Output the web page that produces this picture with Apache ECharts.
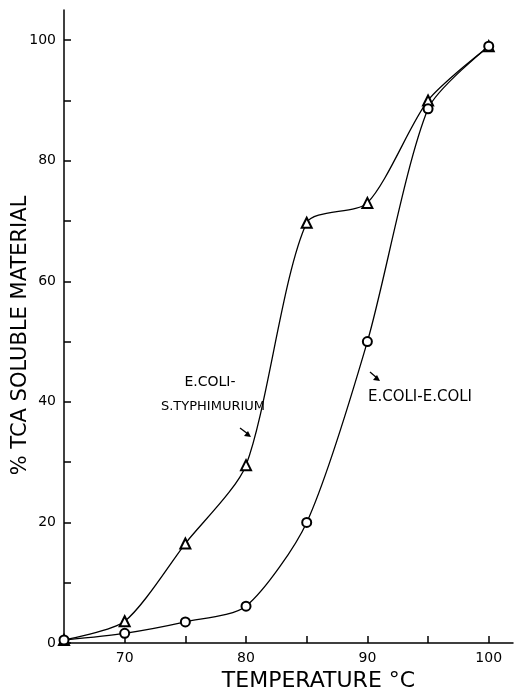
<!DOCTYPE html>
<html>
<head>
<meta charset="utf-8">
<script src="https://cdn.jsdelivr.net/npm/echarts@6/dist/echarts.min.js"></script>
<style>
html, body { margin: 0; padding: 0; background: #fff; }
#chart { width: 515px; height: 695px; }
</style>
</head>
<body>
<div id="chart"></div>
<script>
// temperatures (°C)
var temps = [65, 70, 75, 80, 85, 90, 95, 100]
// E.COLI-S.TYPHIMURIUM (triangles)
var typhiValues = [0.5, 3.6, 16.5, 29.5, 69.7, 73.0, 90.0, 99.0]
// E.COLI-E.COLI (circles)
var coliValues = [0.5, 1.6, 3.5, 6.1, 20.0, 50.0, 88.6, 99.0]

var xLabels = [70, 80, 90, 100]
var yLabels = [0, 20, 40, 60, 80, 100]

function pairs (xs, ys) {
    return xs.map(function (x, i) { return [x, ys[i]] })
}

var chart = echarts.init(document.getElementById('chart'))
var font = 'DejaVu Sans'

function note (text, x, y, size) {
    return {
        type: 'text',
        x: x,
        y: y,
        style: {
            text: text,
            font: size + 'px DejaVu Sans',
            fill: '#000',
            textAlign: 'center',
            textVerticalAlign: 'middle'
        }
    }
}

var option = {
    animation: false,
    grid: { left: 64, top: 10, right: 2, bottom: 52, containLabel: false, outerBoundsMode: 'none' },
    xAxis: {
        type: 'value',
        min: 65,
        max: 102,
        interval: 5,
        axisLine: { lineStyle: { color: '#000', width: 1.5 } },
        axisTick: { inside: true, length: 7, lineStyle: { color: '#000', width: 1.5 } },
        splitLine: { show: false },
        axisLabel: {
            color: '#000',
            fontFamily: font,
            fontSize: 14,
            margin: 8,
            showMaxLabel: false,
            formatter: function (v) { return xLabels.indexOf(v) >= 0 ? String(v) : '' }
        },
        name: 'TEMPERATURE °C',
        nameLocation: 'middle',
        nameGap: 27,
        nameMoveOverlap: false,
        nameTextStyle: { color: '#000', fontFamily: font, fontSize: 22, padding: [0, 0, 0, 60] }
    },
    yAxis: {
        type: 'value',
        min: 0,
        max: 105,
        interval: 10,
        axisLine: { show: true, lineStyle: { color: '#000', width: 1.5 } },
        axisTick: { show: true, inside: true, length: 7, lineStyle: { color: '#000', width: 1.5 } },
        splitLine: { show: false },
        axisLabel: {
            color: '#000',
            fontFamily: font,
            fontSize: 14,
            margin: 8,
            showMaxLabel: false,
            formatter: function (v) { return yLabels.indexOf(v) >= 0 ? String(v) : '' }
        },
        name: '% TCA SOLUBLE MATERIAL',
        nameLocation: 'middle',
        nameGap: 33,
        nameMoveOverlap: false,
        nameTextStyle: { color: '#000', fontFamily: font, fontSize: 21, padding: [0, 18, 0, 0] }
    },
    series: [
        {
            name: 'E.COLI-S.TYPHIMURIUM',
            type: 'line',
            smooth: 0.25,
            symbol: 'emptyTriangle',
            symbolSize: 10,
            itemStyle: { color: '#000', borderWidth: 1.5 },
            lineStyle: { color: '#000', width: 1.3 },
            data: pairs(temps, typhiValues)
        },
        {
            name: 'E.COLI-E.COLI',
            type: 'line',
            smooth: 0.25,
            symbol: 'emptyCircle',
            symbolSize: 9,
            itemStyle: { color: '#000', borderWidth: 1.5 },
            lineStyle: { color: '#000', width: 1.3 },
            data: pairs(temps, coliValues)
        }
    ],
    graphic: [
        note('E.COLI-', 210, 382, 14),
        note('S.TYPHIMURIUM', 213, 407, 13),
        note('E.COLI-E.COLI', 420, 397, 15),
        { type: 'line', shape: { x1: 240, y1: 428, x2: 248, y2: 434 }, style: { stroke: '#000', lineWidth: 1.3 } },
        { type: 'polygon', shape: { points: [[251, 437], [244, 436], [248, 431]] }, style: { fill: '#000' } },
        { type: 'line', shape: { x1: 370, y1: 372, x2: 377, y2: 378 }, style: { stroke: '#000', lineWidth: 1.3 } },
        { type: 'polygon', shape: { points: [[380, 381], [373, 380], [377, 375]] }, style: { fill: '#000' } }
    ]
}

chart.setOption(option)
</script>
</body>
</html>
